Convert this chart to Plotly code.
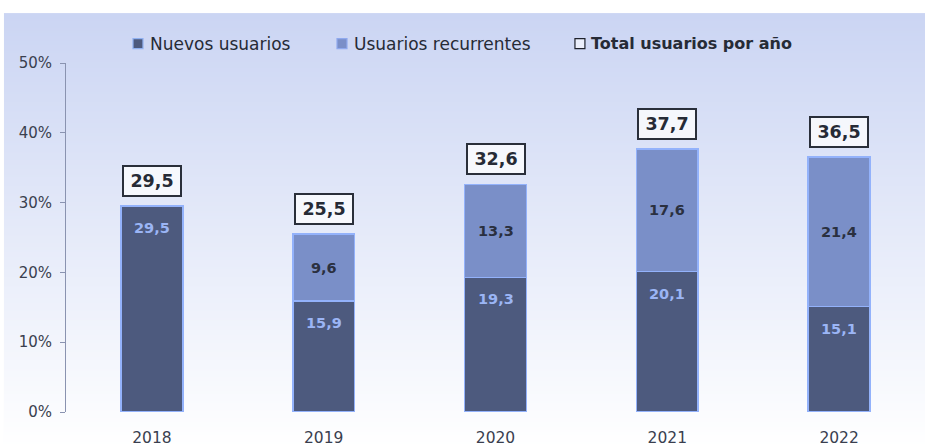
import base64
import struct
import zlib

import plotly.graph_objects as go

years = ["2018", "2019", "2020", "2021", "2022"]
nuevos = [29.5, 15.9, 19.3, 20.1, 15.1]
recurrentes = [0.0, 9.6, 13.3, 17.6, 21.4]
totales = [29.5, 25.5, 32.6, 37.7, 36.5]
y_ticks = [0, 10, 20, 30, 40, 50]
y_tick_labels = ["0%", "10%", "20%", "30%", "40%", "50%"]
legend_labels = ["Nuevos usuarios", "Usuarios recurrentes", "Total usuarios por año"]

DARK = "#4d5a7e"
LIGHT = "#7a8fc8"
EDGE = "#93b2fb"
FONT = "DejaVu Sans"


def fmt(v):
    return f"{v:.1f}".replace(".", ",")


def gradient_png(c0, c1, h=256):
    rows = b""
    for i in range(h):
        t = i / (h - 1)
        col = bytes(round(c0[k] + (c1[k] - c0[k]) * t) for k in range(3))
        rows += b"\x00" + col * 2
    def chunk(tag, data):
        c = struct.pack(">I", len(data)) + tag + data
        return c + struct.pack(">I", zlib.crc32(tag + data) & 0xffffffff)
    png = b"\x89PNG\r\n\x1a\n"
    png += chunk(b"IHDR", struct.pack(">IIBBBBB", 2, h, 8, 2, 0, 0, 0))
    png += chunk(b"IDAT", zlib.compress(rows))
    png += chunk(b"IEND", b"")
    return "data:image/png;base64," + base64.b64encode(png).decode()


fig = go.Figure()
fig.add_trace(go.Bar(x=years, y=nuevos, name=legend_labels[0], marker=dict(color=DARK, line=dict(color=EDGE, width=1.5)),
                     width=0.36, hoverinfo="skip"))
fig.add_trace(go.Bar(x=years, y=recurrentes, name=legend_labels[1], marker=dict(color=LIGHT, line=dict(color=EDGE, width=1.5)),
                     width=0.36, hoverinfo="skip"))

y_top, y_bot = 1.143, -0.103
x_left = -0.0722
fig.add_layout_image(dict(source=gradient_png((0xcb, 0xd5, 0xf3), (0xff, 0xff, 0xff)),
                          xref="paper", yref="paper", x=x_left, y=y_top, sizex=1 - x_left, sizey=y_top - y_bot,
                          xanchor="left", yanchor="top", sizing="stretch", layer="below"))

annotations = []
for i, (n, r, t) in enumerate(zip(nuevos, recurrentes, totales)):
    annotations.append(dict(x=i, y=n, xref="x", yref="y", text="<b>%s</b>" % fmt(n), showarrow=False,
                            yanchor="top", yshift=-12, font=dict(family=FONT, size=14.5, color="#9bb5f5")))
    if r > 0:
        annotations.append(dict(x=i, y=n + r / 2, xref="x", yref="y", text="<b>%s</b>" % fmt(r), showarrow=False,
                                yanchor="middle", font=dict(family=FONT, size=14.5, color="#2a3040")))
    annotations.append(dict(x=i, y=t, xref="x", yref="y", text="<b>%s</b>" % fmt(t), showarrow=False,
                            yanchor="bottom", yshift=9, width=54, height=26, borderpad=1,
                            bordercolor="#2a2f3a", borderwidth=2, bgcolor="rgba(248,249,253,0.9)",
                            font=dict(family=FONT, size=17.5, color="#262b36")))

# legend (glyph squares as shapes + text annotations)
leg_y = 1.055
sq_y0, sq_y1 = 1.041, 1.070
legend_items = [
    (0.0780, 0.0896, DARK, "#8fb0f0", 0.0950, "%s" % legend_labels[0], 17),
    (0.3155, 0.3271, LIGHT, "#8fa9ee", 0.3325, "%s" % legend_labels[1], 17),
    (0.5925, 0.6041, "rgba(255,255,255,0.6)", "#1e222c", 0.6085, "<b>%s</b>" % legend_labels[2], 16),
]
shapes = []
for x0, x1, fill, edge, tx, txt, fs in legend_items:
    shapes.append(dict(type="rect", xref="paper", yref="paper", x0=x0, x1=x1, y0=sq_y0, y1=sq_y1,
                       fillcolor=fill, line=dict(color=edge, width=1.2)))
    annotations.append(dict(xref="paper", yref="paper", x=tx, y=leg_y, xanchor="left", yanchor="middle",
                            showarrow=False, text=txt, font=dict(family=FONT, size=fs, color="#262b36")))

fig.update_layout(
    width=925, height=448,
    margin=dict(l=66, r=0, t=63, b=36),
    paper_bgcolor="white", plot_bgcolor="rgba(0,0,0,0)",
    barmode="stack", showlegend=False,
    annotations=annotations, shapes=shapes,
    font=dict(family=FONT, color="#3a3f4f"),
)
fig.update_xaxes(type="category", range=[-0.5, 4.5], showline=False, showgrid=False, ticks="",
                 ticklabelstandoff=14, tickfont=dict(family=FONT, size=15.5, color="#3a3f4f"))
fig.update_yaxes(range=[0, 50], tickmode="array", tickvals=y_ticks, ticktext=y_tick_labels, showgrid=False,
                 zeroline=False, showline=True, linecolor="#8a93b0", linewidth=1, ticks="outside", ticklen=5,
                 tickcolor="#8a93b0", ticklabelstandoff=5, tickfont=dict(family=FONT, size=15, color="#3a3f4f"))

fig.write_html("out.html", config={"displayModeBar": False},
               post_script="document.body.style.margin='0';")
